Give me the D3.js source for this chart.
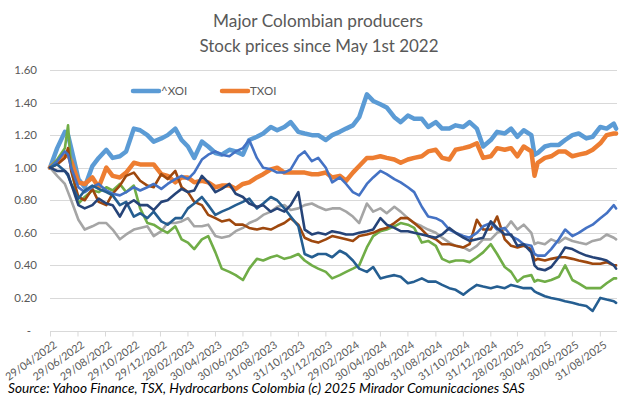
<!DOCTYPE html>
<html><head><meta charset="utf-8">
<script src="https://cdn.jsdelivr.net/npm/d3@7"></script>
<style>
body{margin:0;background:#fff;}
svg{display:block;font-family:Lato,"Open Sans",sans-serif;}
</style>
</head><body>
<svg id="chart" width="642" height="398"></svg>
<script>
// ---- data (values normalised to 1.00 on 29/04/2022) ----
const dates = [
"2022-04-29","2022-05-15","2022-06-01","2022-06-08","2022-06-15","2022-07-01","2022-07-15","2022-08-01","2022-08-15","2022-09-01","2022-09-15","2022-10-01","2022-10-15","2022-11-01","2022-11-15","2022-12-01","2022-12-15",
"2023-01-01","2023-01-15","2023-02-01","2023-02-15","2023-03-01","2023-03-15","2023-04-01","2023-04-15","2023-05-01","2023-05-15","2023-06-01","2023-06-15","2023-07-01","2023-07-15","2023-08-01","2023-08-15","2023-09-01","2023-09-15","2023-10-01","2023-10-15","2023-11-01","2023-11-15","2023-12-01","2023-12-15",
"2024-01-01","2024-01-15","2024-02-01","2024-02-15","2024-03-01","2024-03-15","2024-04-01","2024-04-15","2024-05-01","2024-05-15","2024-06-01","2024-06-15","2024-07-01","2024-07-15","2024-08-01","2024-08-15","2024-09-01","2024-09-15","2024-10-01","2024-10-15","2024-11-01","2024-11-15","2024-12-01","2024-12-15",
"2025-01-01","2025-01-15","2025-02-01","2025-02-15","2025-03-01","2025-03-15","2025-04-01","2025-04-08","2025-04-15","2025-05-01","2025-05-15","2025-06-01","2025-06-15","2025-07-01","2025-07-15","2025-08-01","2025-08-15","2025-09-01","2025-09-15","2025-10-01","2025-10-06"
];

const xoi = [
1.00,1.12,1.22,1.20,1.12,0.93,0.88,1.01,1.06,1.11,1.06,1.07,1.10,1.24,1.23,1.20,1.16,
1.18,1.20,1.24,1.17,1.13,1.06,1.16,1.13,1.09,1.08,1.11,1.10,1.08,1.17,1.19,1.21,1.25,1.23,1.25,1.28,1.22,1.21,1.20,1.20,
1.17,1.20,1.22,1.24,1.26,1.31,1.45,1.41,1.39,1.37,1.31,1.28,1.32,1.30,1.30,1.25,1.28,1.24,1.24,1.26,1.25,1.28,1.24,1.13,
1.17,1.22,1.21,1.24,1.19,1.23,1.20,1.08,1.09,1.13,1.14,1.14,1.17,1.20,1.21,1.18,1.19,1.25,1.24,1.27,1.24
];
const txoi = [
1.00,1.04,1.07,1.08,1.04,0.91,0.90,0.94,0.88,1.00,0.95,0.94,0.97,1.03,1.02,1.02,1.02,
0.96,0.95,0.91,0.94,0.94,0.91,0.92,0.91,0.88,0.89,0.89,0.87,0.90,0.91,0.94,0.96,0.99,1.00,0.97,0.97,0.97,0.97,0.96,0.96,
0.97,0.94,0.95,0.92,0.97,1.01,1.06,1.06,1.07,1.06,1.05,1.03,1.05,1.06,1.07,1.10,1.11,1.06,1.05,1.11,1.12,1.13,1.15,1.06,
1.07,1.12,1.11,1.12,1.07,1.13,1.10,0.95,1.03,1.06,1.07,1.10,1.10,1.07,1.08,1.09,1.11,1.15,1.20,1.21,1.21
];
const blue = [
1.00,1.04,1.10,1.08,1.00,0.88,0.85,0.88,0.90,0.86,0.84,0.83,0.85,0.88,0.86,0.88,0.90,
0.87,0.90,0.93,0.95,0.93,0.97,1.05,1.08,1.10,1.08,1.07,1.10,1.12,1.17,1.06,1.00,0.99,0.97,0.97,0.99,1.07,1.10,1.04,1.06,
1.00,0.91,0.94,0.90,0.85,0.83,0.90,0.94,0.98,0.96,0.93,0.91,0.88,0.85,0.76,0.70,0.69,0.67,0.62,0.60,0.58,0.57,0.60,0.64,
0.66,0.62,0.63,0.58,0.56,0.53,0.52,0.47,0.46,0.46,0.50,0.56,0.62,0.58,0.60,0.63,0.65,0.69,0.72,0.77,0.75
];
const grey = [
1.00,0.95,0.90,0.85,0.80,0.68,0.62,0.64,0.66,0.66,0.62,0.56,0.59,0.62,0.63,0.64,0.58,
0.61,0.66,0.66,0.67,0.69,0.64,0.64,0.65,0.58,0.57,0.58,0.61,0.63,0.66,0.68,0.71,0.73,0.76,0.77,0.74,0.75,0.77,0.78,0.76,
0.74,0.75,0.75,0.73,0.70,0.66,0.78,0.73,0.75,0.72,0.76,0.73,0.69,0.66,0.64,0.62,0.60,0.57,0.54,0.52,0.51,0.49,0.52,0.56,
0.56,0.60,0.62,0.67,0.62,0.65,0.60,0.53,0.54,0.53,0.56,0.54,0.57,0.55,0.54,0.53,0.55,0.56,0.59,0.57,0.56
];
const green = [
1.00,1.05,1.12,1.26,1.00,0.78,0.82,0.86,0.85,0.88,0.86,0.90,0.85,0.89,0.75,0.66,0.65,
0.62,0.60,0.64,0.56,0.54,0.50,0.56,0.58,0.48,0.38,0.36,0.34,0.31,0.38,0.44,0.43,0.45,0.46,0.44,0.45,0.47,0.43,0.40,0.38,
0.36,0.32,0.34,0.36,0.38,0.40,0.51,0.58,0.61,0.62,0.64,0.66,0.65,0.63,0.54,0.55,0.52,0.44,0.42,0.43,0.43,0.42,0.45,0.48,
0.53,0.47,0.39,0.36,0.30,0.33,0.34,0.30,0.31,0.30,0.31,0.33,0.40,0.31,0.29,0.26,0.26,0.26,0.29,0.32,0.32
];
const brown = [
1.00,1.02,1.06,1.12,0.98,0.82,0.80,0.87,0.79,0.77,0.84,0.89,0.95,0.97,0.92,0.89,0.88,
0.96,0.93,0.98,0.88,0.85,0.79,0.77,0.71,0.69,0.67,0.68,0.65,0.65,0.63,0.62,0.63,0.62,0.64,0.66,0.69,0.65,0.57,0.55,0.54,
0.56,0.58,0.57,0.56,0.55,0.58,0.59,0.60,0.62,0.63,0.66,0.69,0.69,0.66,0.62,0.58,0.56,0.53,0.53,0.52,0.51,0.53,0.68,0.62,
0.62,0.70,0.56,0.52,0.51,0.52,0.50,0.43,0.44,0.43,0.44,0.45,0.45,0.44,0.43,0.42,0.41,0.41,0.42,0.40,0.40
];
const navy = [
1.00,0.98,0.98,0.96,0.90,0.77,0.75,0.77,0.81,0.78,0.77,0.70,0.77,0.80,0.77,0.77,0.74,
0.79,0.80,0.84,0.87,0.85,0.86,0.95,0.91,0.85,0.87,0.90,0.84,0.82,0.78,0.76,0.77,0.73,0.75,0.73,0.77,0.85,0.62,0.59,0.60,
0.59,0.61,0.60,0.59,0.59,0.60,0.61,0.62,0.69,0.65,0.63,0.61,0.61,0.60,0.59,0.58,0.57,0.59,0.63,0.60,0.57,0.55,0.56,0.57,
0.67,0.63,0.59,0.59,0.52,0.53,0.48,0.40,0.38,0.37,0.39,0.45,0.51,0.50,0.48,0.46,0.45,0.44,0.43,0.40,0.38
];
const steel = [
1.00,1.02,0.98,0.95,0.90,0.81,0.86,0.89,0.87,0.85,0.83,0.77,0.79,0.70,0.72,0.69,0.73,
0.67,0.65,0.69,0.69,0.75,0.78,0.82,0.77,0.71,0.73,0.75,0.77,0.79,0.81,0.75,0.78,0.82,0.80,0.75,0.70,0.64,0.47,0.45,0.47,
0.47,0.45,0.49,0.47,0.43,0.38,0.36,0.39,0.32,0.33,0.34,0.33,0.29,0.30,0.32,0.30,0.30,0.28,0.26,0.25,0.22,0.25,0.28,0.27,
0.26,0.27,0.26,0.28,0.27,0.26,0.26,0.24,0.23,0.21,0.20,0.19,0.18,0.17,0.16,0.15,0.12,0.20,0.19,0.18,0.17
];

const yTicks = [0, 0.2, 0.4, 0.6, 0.8, 1.0, 1.2, 1.4, 1.6];
const xTickLabels = ["29/04/2022","29/06/2022","29/08/2022","29/10/2022","29/12/2022","28/02/2023","30/04/2023","30/06/2023","31/08/2023","31/10/2023","31/12/2023","29/02/2024","30/04/2024","30/06/2024","31/08/2024","31/10/2024","31/12/2024","28/02/2025","30/04/2025","30/06/2025","31/08/2025"];
const legendNames = ["^XOI","TXOI"];

// ---- drawing ----
const svg = d3.select("#chart");
const parse = d3.timeParse("%Y-%m-%d");
const parseTick = d3.timeParse("%d/%m/%Y");
const dt = dates.map(parse);

const x = d3.scaleTime().domain([parse("2022-04-29"), parse("2025-10-08")]).range([50, 617]);
const y = d3.scaleLinear().domain([0, 1.6]).range([330.5, 70]);

const textCol = "#595959";

// scale a text element's font so that it spans the wanted width
function fit(sel, width) {
  const fs = +sel.attr("font-size");
  const w = sel.node().getComputedTextLength();
  if (w > 0) sel.attr("font-size", (fs * width / w).toFixed(2));
}

// title
const title = svg.append("g").attr("fill", textCol).attr("text-anchor", "middle");
fit(title.append("text").attr("x", 318).attr("y", 27).attr("font-size", 17).text("Major Colombian producers"), 210);
fit(title.append("text").attr("x", 319).attr("y", 52).attr("font-size", 17).text("Stock prices since May 1st 2022"), 239);

// gridlines
svg.append("g").selectAll("line").data(yTicks.filter(d => d > 0)).join("line")
  .attr("x1", 50).attr("x2", 617)
  .attr("y1", d => Math.round(y(d)) + 0.5).attr("y2", d => Math.round(y(d)) + 0.5)
  .attr("stroke", "#d9d9d9").attr("stroke-width", 1);

// y labels
svg.append("g").selectAll("text").data(yTicks).join("text")
  .attr("x", d => d === 0 ? 31 : 37).attr("y", d => y(d)).attr("dy", "0.35em")
  .attr("text-anchor", "end").attr("font-size", 11.5).attr("fill", textCol)
  .text(d => d === 0 ? "-" : d3.format(".2f")(d));

// x axis
const xAxis = d3.axisBottom(x)
  .tickValues(xTickLabels.map(parseTick))
  .tickFormat(d3.timeFormat("%d/%m/%Y"))
  .tickSize(5).tickSizeOuter(0);
const gx = svg.append("g").attr("transform", `translate(0,${Math.round(y(0)) + 0.5})`).call(xAxis);
gx.select(".domain").attr("stroke", "#d9d9d9").attr("d", "M50,0H617");
gx.selectAll(".tick line").attr("stroke", "#d9d9d9");
gx.selectAll(".tick text")
  .attr("fill", textCol).attr("font-size", 10.8).attr("font-family", "Lato,'Open Sans',sans-serif")
  .attr("y", 0).attr("dy", "0.35em").attr("x", 0)
  .attr("text-anchor", "end")
  .attr("transform", "translate(5,12) rotate(-35)");

// series
const series = [
  {name: "^XOI", values: xoi, color: "#5b9bd5", w: 4.5},
  {name: "TXOI", values: txoi, color: "#ed7d31", w: 4.5},
  {name: "s3", values: grey, color: "#a5a5a5", w: 2.6},
  {name: "s4", values: green, color: "#70ad47", w: 2.6},
  {name: "s5", values: brown, color: "#9e480e", w: 2.6},
  {name: "s6", values: blue, color: "#4472c4", w: 2.6},
  {name: "s7", values: steel, color: "#255e91", w: 2.6},
  {name: "s8", values: navy, color: "#264478", w: 2.6}
];
const line = d3.line().x((d, i) => x(dt[i])).y(d => y(d));
svg.append("g").selectAll("path").data(series).join("path")
  .attr("d", s => line(s.values))
  .attr("fill", "none").attr("stroke", s => s.color).attr("stroke-width", s => s.w)
  .attr("stroke-linejoin", "round").attr("stroke-linecap", "round");

// legend
const leg = svg.append("g");
const legX = [133, 222];
legendNames.forEach((n, i) => {
  const s = series[i];
  leg.append("line").attr("x1", legX[i]).attr("x2", legX[i] + 26).attr("y1", 91).attr("y2", 91)
    .attr("stroke", s.color).attr("stroke-width", 4.5).attr("stroke-linecap", "round");
  leg.append("text").attr("x", legX[i] + 28).attr("y", 91).attr("dy", "0.35em")
    .attr("font-size", 11.5).attr("fill", textCol).text(n);
});

// source
fit(svg.append("text").attr("x", 8).attr("y", 393).attr("font-size", 14).attr("font-style", "italic")
  .attr("fill", "#000").text("Source: Yahoo Finance, TSX, Hydrocarbons Colombia (c) 2025 Mirador Comunicaciones SAS"), 517);
</script>
</body></html>
